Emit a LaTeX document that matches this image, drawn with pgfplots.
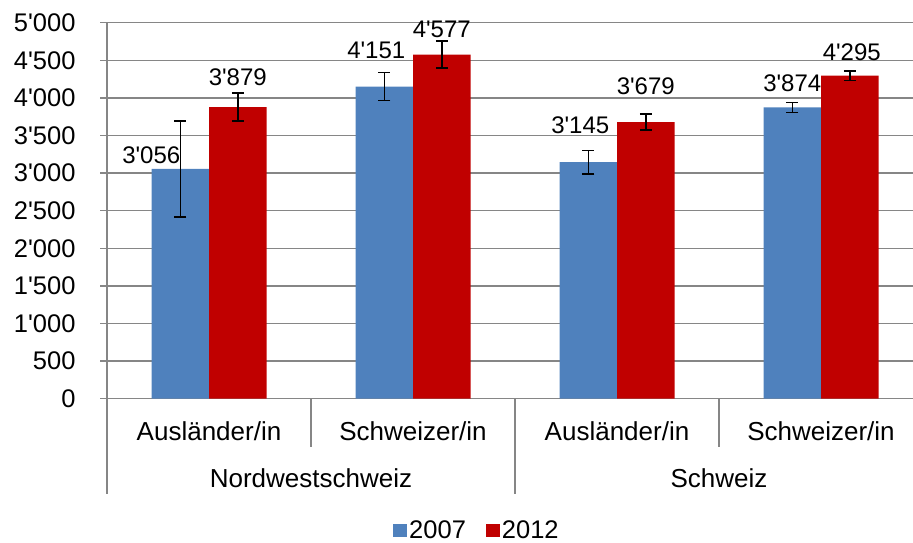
\documentclass[border=0pt]{standalone}
\usepackage{fontspec}
\setmainfont{Liberation Sans}
\usepackage{pgfplots}
\pgfplotsset{compat=1.18}
\usepackage{pgfplotstable}
\definecolor{cblue}{HTML}{4F81BD}
\definecolor{cred}{HTML}{C00000}
\definecolor{gridgray}{RGB}{134,134,134}

\pgfplotstableread{
x y err dy dx
0 3056 638 14 -29
1 4151 186 36 -8
2 3145 158 36.5 -8
3 3874 65 24 0
}\blueTab
\pgfplotstableread{
x y err dy dx
0 3879 186 29.5 0
1 4577 180 25 0
2 3679 105 36 0
3 4295 62 23.5 2
}\redTab

\begin{document}
\begin{tikzpicture}
\useasboundingbox (0,0) rectangle (913pt,542pt);
\begin{axis}[
  at={(107pt,143.3pt)}, anchor=south west,
  scale only axis, width=806pt, height=376pt,
  xmin=-0.5, xmax=3.451, ymin=0, ymax=5000,
  ybar=0pt, bar width=57.5pt,
  axis lines=left, axis line style={-, gridgray, line width=1.3pt},
  ymajorgrids, grid style={gridgray, line width=1.3pt},
  ytick={0,500,...,5000},
  tick style={gridgray, line width=1.3pt},
  tick align=outside, major tick length=7pt,
  xtick={0,1,2,3},
  xticklabels={Ausländer/in,Schweizer/in,Ausländer/in,Schweizer/in},
  x tick style={draw=none},
  xticklabel style={font=\fontsize{26}{30}\selectfont, anchor=center, yshift=-25.3pt},
  yticklabel style={font=\fontsize{25.5}{30}\selectfont, xshift=-21pt},
  /pgf/number format/1000 sep={\textquotesingle},
  /pgf/number format/assume math mode=true,
  yticklabel={\pgfmathprintnumber{\tick}},
  clip=false,
  nodes near coords,
  visualization depends on={\thisrow{dy}\as\dy},
  visualization depends on={\thisrow{dx}\as\dx},
  nodes near coords style={font=\fontsize{24}{28}\selectfont, anchor=center, text=black, yshift=\dy pt, xshift=\dx pt},
  legend style={at={(0.459,-0.351)}, anchor=center, draw=none, legend columns=2,
    font=\fontsize{25.5}{30}\selectfont,
    /tikz/every even column/.append style={column sep=18pt}},
]
\addplot[fill=cblue, draw=none,
  legend image code/.code={\fill[cblue] (0pt,-6pt) rectangle (14pt,6.5pt);},
  error bars/.cd, y dir=both, y explicit,
  error bar style={black, line width=1.5pt},
  error mark options={rotate=90, mark size=6pt, line width=1.5pt, black}]
  table[x=x, y=y, y error=err] {\blueTab};
\addlegendentry{2007}
\addplot[fill=cred, draw=none,
  legend image code/.code={\fill[cred] (0pt,-6pt) rectangle (14pt,6.5pt);},
  error bars/.cd, y dir=both, y explicit,
  error bar style={black, line width=1.5pt},
  error mark options={rotate=90, mark size=6pt, line width=1.5pt, black}]
  table[x=x, y=y, y error=err] {\redTab};
\addlegendentry{2012}
\draw[gridgray, line width=1.3pt] (axis cs:0.5,0) -- ++(0pt,-48.3pt);
\draw[gridgray, line width=1.3pt] (axis cs:2.5,0) -- ++(0pt,-48.3pt);
\draw[gridgray, line width=1.3pt] (axis cs:1.5,0) -- ++(0pt,-95.3pt);
\draw[gridgray, line width=1.3pt] (axis cs:-0.5,0) -- ++(0pt,-95.3pt);
\node[font=\fontsize{26}{30}\selectfont, anchor=center] at ([yshift=-79.3pt]axis cs:0.5,0) {Nordwestschweiz};
\node[font=\fontsize{26}{30}\selectfont, anchor=center] at ([yshift=-79.3pt]axis cs:2.5,0) {Schweiz};
\end{axis}
\end{tikzpicture}
\end{document}
